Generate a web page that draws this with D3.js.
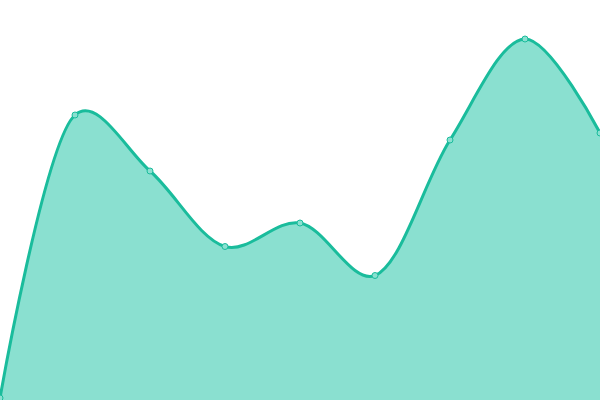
<!DOCTYPE html>
<html><head><meta charset="utf-8">
<script src="https://cdn.jsdelivr.net/npm/d3@7"></script>
<style>html,body{margin:0;padding:0;background:#fff;overflow:hidden}</style>
</head><body>
<svg id="c" width="600" height="400"></svg>
<script>
const categories = [0,1,2,3,4,5,6,7,8];
const values = [2, 285, 229, 153.5, 177, 124.5, 260, 361, 267];

const W = 600, H = 400;
const svg = d3.select("#c");
const x = d3.scaleLinear().domain([0, categories.length - 1]).range([0, W]);
const y = d3.scaleLinear().domain([0, 400]).range([H, 0]);
const data = categories.map((c, i) => ({c, v: values[i]}));
const curve = d3.curveCatmullRom.alpha(0.25);

svg.append("path").datum(data)
  .attr("d", d3.area().x(d => x(d.c)).y0(H).y1(d => y(d.v)).curve(curve))
  .attr("fill", "#8ae0d0");
svg.append("path").datum(data)
  .attr("d", d3.line().x(d => x(d.c)).y(d => y(d.v)).curve(curve))
  .attr("fill", "none").attr("stroke", "#1abc9c").attr("stroke-width", 3);
svg.selectAll("circle").data(data).enter().append("circle")
  .attr("cx", d => x(d.c)).attr("cy", d => y(d.v)).attr("r", 3)
  .attr("fill", "#8ae0d0").attr("stroke", "#1abc9c").attr("stroke-width", 1);
</script>
</body></html>
